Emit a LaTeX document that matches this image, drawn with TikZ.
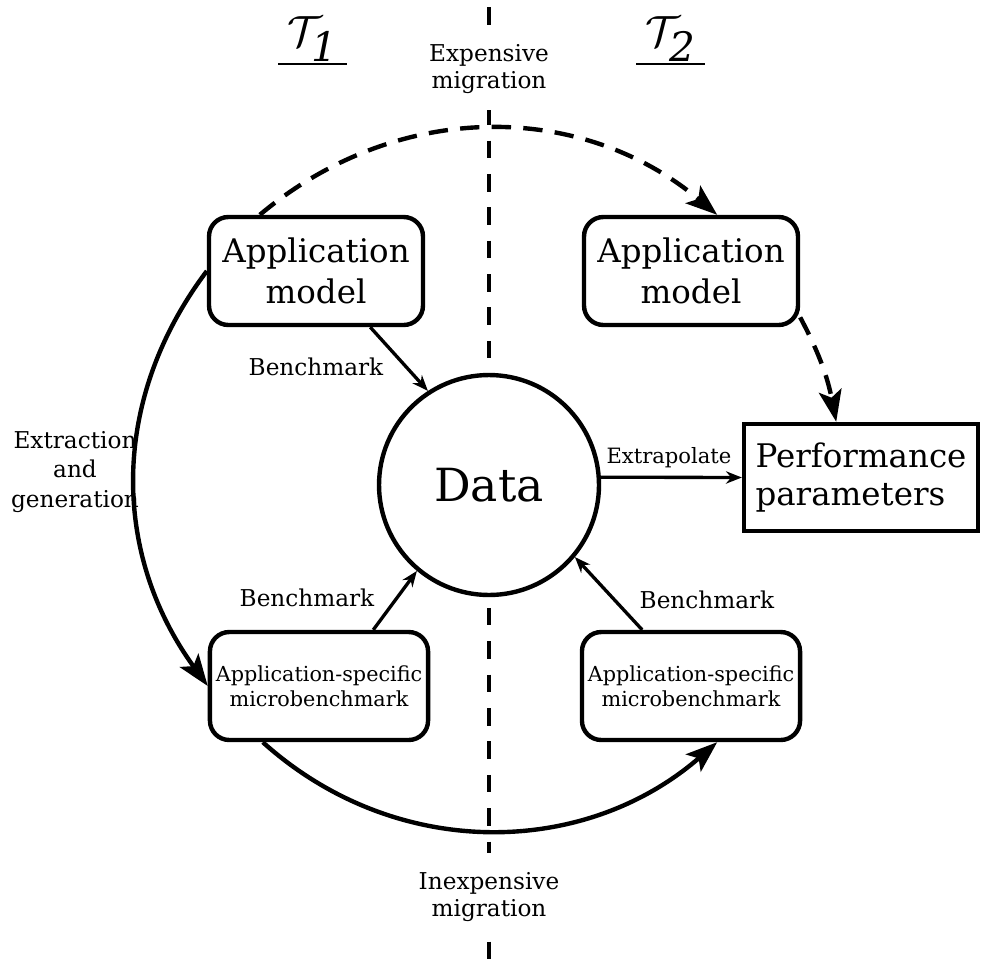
\documentclass[tikz,border=0pt]{standalone}
\usepackage{fontspec}
\setmainfont{DejaVu Serif}
\usepackage{amsmath}
\usetikzlibrary{arrows.meta}

\tikzset{
    appbox/.style={draw, fill=white, rounded corners=11pt, line width=2.5pt,
        minimum width=4.28cm, minimum height=2.16cm, align=center,
        font=\fontsize{18.5}{23}\selectfont},
    microbox/.style={appbox, font=\fontsize{11.8}{14.2}\selectfont},
    lbl/.style={align=center, font=\fontsize{13.2}{15.5}\selectfont},
    bench/.style={-{Stealth[length=9pt,width=7pt]}, line width=1.9pt},
    flow/.style={-{Stealth[length=18pt,width=13pt,inset=4pt]}, line width=2.5pt},
    migr/.style={flow, dash pattern=on 11pt off 7pt},
}

\begin{document}
\begin{tikzpicture}[x=0.02cm, y=-0.02cm]
        \useasboundingbox (0,0) rectangle (982,963);

        % border between the two platforms
        \coordinate (top) at (489,0);
        \coordinate (bot) at (489,963);
        \draw[line width=2.4pt, dash pattern=on 10pt off 9pt, dash phase=-4pt] (top) -- (bot);

        \node[lbl, fill=white, inner ysep=9pt] (exp) at (489,69) {Expensive\\migration};
        \node[lbl, fill=white, inner ysep=11pt] (inexp) at (489,897) {Inexpensive\\migration};

        % platforms
        \node[font=\fontsize{33}{36}\selectfont, anchor=south, inner xsep=5pt, inner ysep=1pt] (t1) at (312.5,64) {$\mathcal{T}_{\mathit{1}}$};
        \node[font=\fontsize{33}{36}\selectfont, anchor=south, inner xsep=5pt, inner ysep=1pt] (t2) at (670.5,64) {$\mathcal{T}_{\mathit{2}}$};
        \draw[line width=1.3pt] (t1.south west) -- (t1.south east);
        \draw[line width=1.3pt] (t2.south west) -- (t2.south east);

        % boxes
        \node[appbox] (appL) at (316,271) {Application\\model};
        \node[appbox] (appR) at (691,271) {Application\\model};
        \node[microbox] (msL) at (319,686) {Application-specific\\microbenchmark};
        \node[microbox] (msR) at (691,686) {Application-specific\\microbenchmark};
        \node[draw, fill=white, circle, line width=2.5pt, minimum size=4.4cm,
              font=\fontsize{26}{30}\selectfont] (data) at (489,485) {Data};
        \node[draw, fill=white, line width=2.5pt, minimum width=4.68cm, minimum height=2.14cm,
              align=left, font=\fontsize{18.5}{22}\selectfont] (perf) at (861,477.5) {Performance\\parameters};

        % benchmarks
        \draw[bench] (appL.-46) -- (data.123);
        \draw[bench] (msL.46) -- (data.230);
        \draw[bench] (msR.131) -- (data.-40);
        \draw[bench] (data.4) -- (perf.west);
        \node[lbl] (b1) at (316,367) {Benchmark};
        \node[lbl] (b2) at (307,598) {Benchmark};
        \node[lbl] (b3) at (707,600) {Benchmark};
        \node[font=\fontsize{12}{14}\selectfont] (ex) at (669,458) {Extrapolate};

        % migrations
        \draw[migr] (appL.135) to[out=40, in=140] (appR.65);
        \draw[migr] (appR.-23) to[out=-62, in=101] (perf.114);
        \draw[flow] (appL.west) to[out=233, in=126] (msL.west);
        \draw[flow] (msL.225) to[out=318, in=221] (msR.295);
        \node[align=center, font=\fontsize{13.2}{17}\selectfont] (gen) at (75,472) {Extraction\\and\\generation};
    \end{tikzpicture}
\end{document}
